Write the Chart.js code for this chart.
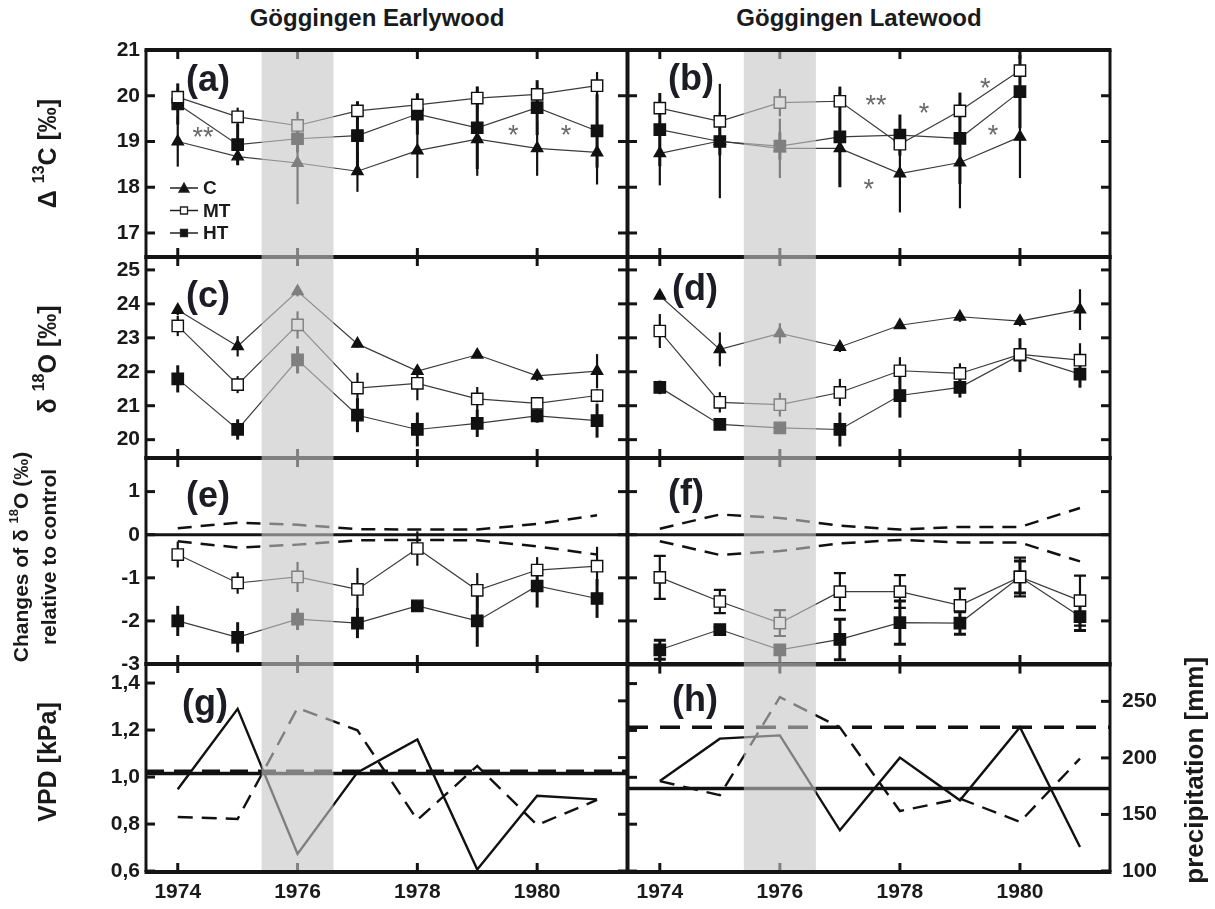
<!DOCTYPE html>
<html>
<head>
<meta charset="utf-8">
<title>Göggingen Earlywood / Latewood</title>
<script src="https://cdn.jsdelivr.net/npm/chart.js@4.4.1/dist/chart.umd.min.js"></script>
<style>
  body { margin: 0; background: #fff; }
  #page { position: relative; width: 1215px; height: 909px; overflow: hidden; background: #fff; }
  #page canvas { position: absolute; }
  .head { position: absolute; top: 4px; width: 482px; text-align: center;
          font: bold 24px 'Liberation Sans', Arial, sans-serif; color: #1a1a1a; }
</style>
</head>
<body>
<div id="page">
  <div class="head" style="left:136px">Göggingen Earlywood</div>
  <div class="head" style="left:618px">Göggingen Latewood</div>
  <canvas id="pa"></canvas>
  <canvas id="pb"></canvas>
  <canvas id="pc"></canvas>
  <canvas id="pd"></canvas>
  <canvas id="pe"></canvas>
  <canvas id="pf"></canvas>
  <canvas id="pg"></canvas>
  <canvas id="ph"></canvas>
</div>
<script>
// ---- data ----
const years = [1974, 1975, 1976, 1977, 1978, 1979, 1980, 1981];
const yearsB = [1974, 1975, 1976, 1977, 1978, 1979, 1980];
const xTicks = [1974, 1976, 1978, 1980];
const xMin = 1973.47, xMax = 1981.5;
const droughtBand = [1975.4, 1976.6];

const d13Ticks = [17, 18, 19, 20, 21];
const d18Ticks = [20, 21, 22, 23, 24, 25];
const diffTicks = [-3, -2, -1, 0, 1];
const vpdTicks = [0.6, 0.8, 1.0, 1.2, 1.4];
const precTicks = [100, 150, 200, 250];

// (a) earlywood D13C
const a_C = [19.0, 18.67, 18.53, 18.35, 18.8, 19.05, 18.85, 18.76];
const a_MT = [19.97, 19.54, 19.35, 19.67, 19.8, 19.95, 20.03, 20.22];
const a_HT = [19.82, 18.93, 19.06, 19.13, 19.6, 19.3, 19.74, 19.23];
const a_Cerr = [0.55, 0.15, 0.9, 0.45, 0.6, 0.8, 0.6, 0.7];
const a_MTerr = [0.2, 0.2, 0.3, 0.2, 0.25, 0.25, 0.2, 0.3];
const a_HTerr = [0.45, 0.45, 0.3, 0.75, 0.45, 0.9, 0.6, 0.8];
const a_starX = [1974.42, 1979.6, 1980.48];
const a_starY = [19.2, 19.25, 19.25];
const a_starT = ['**', '*', '*'];

// (b) latewood D13C
const b_C = [18.74, 19.01, 18.85, 18.85, 18.3, 18.54, 19.1];
const b_MT = [19.73, 19.44, 19.85, 19.88, 18.94, 19.67, 20.55];
const b_HT = [19.26, 19.0, 18.9, 19.1, 19.14, 19.07, 20.09];
const b_Cerr = [0.7, 1.25, 0.65, 0.8, 0.85, 1.0, 0.9];
const b_MTerr = [0.2, 0.2, 0.3, 0.2, 0.2, 0.2, 0.3];
const b_HTerr = [0.8, 0.3, 0.3, 1.1, 0.45, 1.0, 0.8];
const b_starX = [1977.6, 1978.4, 1979.42, 1979.55, 1977.48];
const b_starY = [19.89, 19.71, 20.26, 19.23, 18.05];
const b_starT = ['**', '*', '*', '*', '*'];

// (c) earlywood d18O
const c_C = [23.82, 22.75, 24.37, 22.82, 22.02, 22.5, 21.88, 22.02];
const c_MT = [23.35, 21.62, 23.38, 21.52, 21.66, 21.2, 21.07, 21.3];
const c_HT = [21.79, 20.3, 22.35, 20.72, 20.3, 20.48, 20.7, 20.56];
const c_Cerr = [0.15, 0.3, 0.15, 0.1, 0.1, 0.1, 0.15, 0.5];
const c_MTerr = [0.3, 0.25, 0.4, 0.45, 0.5, 0.35, 0.15, 0.2];
const c_HTerr = [0.4, 0.3, 0.4, 0.5, 0.5, 0.4, 0.2, 0.5];

// (d) latewood d18O
const d_C = [24.24, 22.66, 23.13, 22.73, 23.37, 23.62, 23.49, 23.83];
const d_MT = [23.2, 21.1, 21.03, 21.39, 22.03, 21.95, 22.51, 22.34];
const d_HT = [21.54, 20.45, 20.35, 20.3, 21.3, 21.54, 22.49, 21.93];
const d_Cerr = [0.1, 0.5, 0.3, 0.15, 0.1, 0.15, 0.15, 0.6];
const d_MTerr = [0.5, 0.3, 0.35, 0.4, 0.4, 0.3, 0.2, 0.5];
const d_HTerr = [0.2, 0.1, 0.1, 0.5, 0.65, 0.3, 0.5, 0.4];

// (e) earlywood d18O change relative to control
const e_MT = [-0.46, -1.12, -0.98, -1.27, -0.32, -1.29, -0.82, -0.73];
const e_HT = [-2.0, -2.38, -1.96, -2.05, -1.65, -2.0, -1.19, -1.48];
const e_MTerr = [0.3, 0.25, 0.35, 0.5, 0.4, 0.4, 0.3, 0.45];
const e_HTerr = [0.35, 0.35, 0.25, 0.35, 0.1, 0.6, 0.5, 0.45];
const e_ctrlUp = [0.15, 0.28, 0.23, 0.13, 0.12, 0.12, 0.25, 0.45];
const e_ctrlLo = [-0.15, -0.3, -0.23, -0.13, -0.12, -0.13, -0.27, -0.46];

// (f) latewood d18O change relative to control
const f_MT = [-0.99, -1.55, -2.05, -1.32, -1.32, -1.64, -0.98, -1.53];
const f_HT = [-2.67, -2.2, -2.67, -2.43, -2.04, -2.05, -0.98, -1.9];
const f_MTerr = [0.5, 0.27, 0.3, 0.43, 0.38, 0.39, 0.45, 0.58];
const f_HTerr = [0.22, 0.05, 0.1, 0.47, 0.5, 0.26, 0.37, 0.32];
const f_ctrlUp = [0.14, 0.47, 0.39, 0.21, 0.12, 0.18, 0.18, 0.62];
const f_ctrlLo = [-0.15, -0.47, -0.38, -0.2, -0.12, -0.18, -0.18, -0.62];

// (g)/(h) climate: VPD (solid) and precipitation (dashed)
const g_vpd = [0.948, 1.29, 0.673, 1.02, 1.16, 0.607, 0.92, 0.905];
const g_prec = [147.6, 145.9, 243.7, 224, 145, 192.6, 140.6, 162.6];
const g_vpdMean = 1.015, g_precMean = 188;
const h_vpd = [0.984, 1.165, 1.179, 0.774, 1.084, 0.902, 1.214, 0.703];
const h_prec = [179.5, 167, 253.7, 227, 153, 164, 143.4, 199.4];
const h_vpdMean = 0.952, h_precMean = 227.2;

// axis titles (sup = superscript)
const titleD13 = [{ t: 'Δ ' }, { t: '13', sup: true }, { t: 'C [‰]' }];
const titleD18 = [{ t: 'δ ' }, { t: '18', sup: true }, { t: 'O [‰]' }];
const titleDiff1 = [{ t: 'Changes of δ ' }, { t: '18', sup: true }, { t: 'O (‰)' }];
const titleDiff2 = [{ t: 'relative to control' }];
const titleVPD = [{ t: 'VPD [kPa]' }];
const titlePrec = [{ t: 'precipitation [mm]' }];

// ---- drawing ----
const FONT = "'Liberation Sans', Arial, sans-serif";
Chart.defaults.font.family = FONT;
Chart.defaults.color = '#1a1a1a';

const colGeom = [
  { left: 0, width: 640, areaLeft: 146, areaRight: 627 },
  { left: 614, width: 601, areaLeft: 628, areaRight: 1110 }
];
const rowGeom = [[50, 257], [257, 458], [458, 664], [664, 872]];
const PAD = 24;

const STYLE = {
  C:  { pointStyle: 'triangle', pointRadius: 6.5, pointBackgroundColor: '#111', pointBorderColor: '#111', errWidth: 2.2 },
  MT: { pointStyle: 'rect', pointRadius: 8, pointBackgroundColor: '#fff', pointBorderColor: '#111', errWidth: 2.2 },
  HT: { pointStyle: 'rect', pointRadius: 8, pointBackgroundColor: '#111', pointBorderColor: '#111', errWidth: 3 }
};

function pts(xs, ys) {
  return xs.map(function (x, i) { return { x: x, y: ys[i] }; });
}

function series(label, xs, ys, errs, extra) {
  return Object.assign({
    label: label,
    data: pts(xs, ys),
    errors: errs,
    borderColor: '#3c3c3c',
    borderWidth: 1.2,
    pointBorderWidth: 1.4,
    yAxisID: 'y'
  }, STYLE[label], extra || {});
}

function curve(xs, ys, axis, width, dash) {
  return { data: pts(xs, ys), yAxisID: axis, borderColor: '#111', borderWidth: width,
           borderDash: dash, pointRadius: 0 };
}

function flat(value, axis, width, dash) {
  return { data: [{ x: xMin, y: value }, { x: xMax, y: value }], yAxisID: axis,
           borderColor: '#111', borderWidth: width, borderDash: dash, pointRadius: 0 };
}

function starList(xs, ys, ts) {
  return xs.map(function (x, i) { return { x: x, y: ys[i], t: ts[i] }; });
}

// rotated (bottom-to-top) text with optional superscripts
function drawRich(ctx, parts, size, cx, cy) {
  const supSize = Math.round(size * 0.64);
  let total = 0;
  const widths = parts.map(function (p) {
    ctx.font = 'bold ' + (p.sup ? supSize : size) + 'px ' + FONT;
    const w = ctx.measureText(p.t).width;
    total += w;
    return w;
  });
  ctx.save();
  ctx.translate(cx, cy);
  ctx.rotate(-Math.PI / 2);
  ctx.fillStyle = '#1a1a1a';
  ctx.textAlign = 'left';
  ctx.textBaseline = 'middle';
  let x = -total / 2;
  parts.forEach(function (p, i) {
    ctx.font = 'bold ' + (p.sup ? supSize : size) + 'px ' + FONT;
    ctx.fillText(p.t, x, p.sup ? -size * 0.36 : 0);
    x += widths[i];
  });
  ctx.restore();
}

const errorBars = {
  id: 'errorBars',
  beforeDatasetsDraw(chart) {
    const ctx = chart.ctx;
    chart.data.datasets.forEach(function (ds, i) {
      if (!ds.errors) return;
      const meta = chart.getDatasetMeta(i);
      const ys = chart.scales[ds.yAxisID || 'y'];
      ctx.save();
      ctx.strokeStyle = '#111';
      ctx.lineWidth = ds.errWidth || 2;
      meta.data.forEach(function (pt, j) {
        const e = ds.errors[j];
        if (!e) return;
        const v = ds.data[j].y;
        const y1 = ys.getPixelForValue(v - e), y2 = ys.getPixelForValue(v + e);
        ctx.beginPath();
        ctx.moveTo(pt.x, y1); ctx.lineTo(pt.x, y2);
        if (ds.errCap) {
          ctx.moveTo(pt.x - ds.errCap, y1); ctx.lineTo(pt.x + ds.errCap, y1);
          ctx.moveTo(pt.x - ds.errCap, y2); ctx.lineTo(pt.x + ds.errCap, y2);
        }
        ctx.stroke();
      });
      ctx.restore();
    });
  }
};

const frame = {
  id: 'frame',
  afterDatasetsDraw(chart, args, o) {
    const ctx = chart.ctx, a = chart.chartArea, sc = chart.scales;
    const seg = function (x1, y1, x2, y2) { ctx.beginPath(); ctx.moveTo(x1, y1); ctx.lineTo(x2, y2); ctx.stroke(); };
    ctx.save();
    ctx.strokeStyle = '#141414';
    if (o.zero) {
      ctx.lineWidth = 3;
      const y0 = sc.y.getPixelForValue(0);
      seg(a.left, y0, a.right, y0);
    }
    ctx.lineWidth = 3;
    xTicks.forEach(function (v) {
      const px = sc.x.getPixelForValue(v);
      seg(px, a.top, px, a.top + 9);
      seg(px, a.bottom, px, a.bottom - 9);
    });
    o.leftTicks.forEach(function (v) {
      const py = sc[o.leftAxis].getPixelForValue(v);
      seg(a.left, py, a.left + 9, py);
    });
    o.rightTicks.forEach(function (v) {
      const py = sc[o.rightAxis].getPixelForValue(v);
      seg(a.right - 9, py, a.right, py);
    });
    ctx.lineWidth = 4;
    seg(a.left - 1.5, a.top, a.right + 1.5, a.top);
    seg(a.left - 1.5, a.bottom, a.right + 1.5, a.bottom);
    ctx.lineWidth = 3;
    seg(a.left, a.top, a.left, a.bottom);
    seg(a.right, a.top, a.right, a.bottom);
    ctx.restore();
  }
};

// grey veil over the 1976 drought year
const band = {
  id: 'band',
  afterDraw(chart, args, o) {
    const ctx = chart.ctx, a = chart.chartArea, x = chart.scales.x;
    const x1 = x.getPixelForValue(droughtBand[0]), x2 = x.getPixelForValue(droughtBand[1]);
    const top = o.firstRow ? a.top + 2 : a.top - 2;
    const bottom = o.lastRow ? a.bottom - 2 : a.bottom + 2;
    ctx.save();
    ctx.fillStyle = 'rgba(197,197,197,0.61)';
    ctx.fillRect(x1, top, x2 - x1, bottom - top);
    ctx.restore();
  }
};

const notes = {
  id: 'notes',
  afterDraw(chart, args, o) {
    const ctx = chart.ctx, a = chart.chartArea, sx = chart.scales.x, sy = chart.scales.y;
    ctx.save();
    if (o.letter) {
      ctx.font = 'bold 36px ' + FONT;
      ctx.fillStyle = '#1c1c24';
      ctx.textAlign = 'left';
      ctx.textBaseline = 'middle';
      ctx.fillText(o.letter, a.left + o.letterDx, a.top + o.letterDy);
    }
    (o.stars || []).forEach(function (s) {
      ctx.font = '27px ' + FONT;
      ctx.fillStyle = '#6a6a6a';
      ctx.textAlign = 'center';
      ctx.textBaseline = 'middle';
      ctx.fillText(s.t, sx.getPixelForValue(s.x), sy.getPixelForValue(s.y) + 6);
    });
    if (o.legend) {
      chart.data.datasets.forEach(function (ds, i) {
        const y = a.top + o.legend.top + i * o.legend.gap;
        const x0 = a.left + o.legend.left;
        ctx.strokeStyle = '#222';
        ctx.lineWidth = 1.5;
        ctx.beginPath(); ctx.moveTo(x0, y); ctx.lineTo(x0 + 28, y); ctx.stroke();
        ctx.fillStyle = ds.pointBackgroundColor;
        ctx.lineWidth = 1.3;
        ctx.beginPath();
        if (ds.pointStyle === 'triangle') {
          ctx.moveTo(x0 + 14, y - 5); ctx.lineTo(x0 + 19, y + 4); ctx.lineTo(x0 + 9, y + 4); ctx.closePath();
        } else {
          ctx.rect(x0 + 10.5, y - 3.5, 7, 7);
        }
        ctx.fill(); ctx.stroke();
        ctx.font = 'bold 19px ' + FONT;
        ctx.fillStyle = '#1a1a1a';
        ctx.textAlign = 'left';
        ctx.textBaseline = 'middle';
        ctx.fillText(ds.label, x0 + 33, y + 1);
      });
    }
    (o.titles || []).forEach(function (t) {
      const cx = t.right ? a.right + t.dx : t.dx;
      drawRich(ctx, t.parts, t.size, cx, (a.top + a.bottom) / 2 + (t.dy || 0));
    });
    ctx.restore();
  }
};

function tickSetter(list) {
  return function (s) { s.ticks = list.map(function (v) { return { value: v }; }); };
}

function panel(id, col, row, cfg) {
  const g = colGeom[col], r = rowGeom[row];
  const lastRow = row === 3;
  const top = r[0] - PAD;
  const height = lastRow ? 909 - top : r[1] - r[0] + 2 * PAD;
  const canvas = document.getElementById(id);
  canvas.width = g.width;
  canvas.height = height;
  canvas.style.left = g.left + 'px';
  canvas.style.top = top + 'px';

  const showLeft = col === 0;
  const showRight = !!cfg.y2Labels;
  const tickFont = { size: 21, weight: 'bold' };
  const fmt = cfg.comma ? function (v) { return v.toFixed(1).replace('.', ','); } : function (v) { return String(v); };

  const scales = {
    x: {
      type: 'linear', min: xMin, max: xMax, display: lastRow,
      afterBuildTicks: tickSetter(xTicks),
      grid: { display: false, drawTicks: false }, border: { display: false },
      ticks: { padding: 8, font: tickFont, color: '#1a1a1a', callback: function (v) { return String(v); } }
    },
    y: {
      type: 'linear', position: 'left', min: cfg.yMin, max: cfg.yMax, display: showLeft,
      afterBuildTicks: tickSetter(cfg.yTicks),
      grid: { display: false, drawTicks: false }, border: { display: false },
      ticks: { padding: 6, font: tickFont, color: '#1a1a1a', callback: fmt }
    }
  };
  if (lastRow) scales.x.afterFit = function (s) { s.height = 37; };
  if (showLeft) scales.y.afterFit = function (s) { s.width = g.areaLeft - g.left; };
  if (cfg.y2) {
    scales.y2 = {
      type: 'linear', position: 'right', min: cfg.y2[0], max: cfg.y2[1], display: showRight,
      afterBuildTicks: tickSetter(precTicks),
      grid: { display: false, drawTicks: false }, border: { display: false },
      ticks: { padding: 12, font: tickFont, color: '#1a1a1a', callback: function (v) { return String(v); } }
    };
    if (showRight) scales.y2.afterFit = function (s) { s.width = g.left + g.width - g.areaRight; };
  }

  return new Chart(canvas, {
    type: 'line',
    data: { datasets: cfg.datasets },
    options: {
      responsive: false,
      animation: false,
      devicePixelRatio: 1,
      events: [],
      layout: {
        padding: {
          top: PAD,
          bottom: lastRow ? 0 : PAD,
          left: showLeft ? 0 : g.areaLeft - g.left,
          right: showRight ? 0 : g.left + g.width - g.areaRight
        }
      },
      scales: scales,
      plugins: {
        legend: { display: false },
        tooltip: { enabled: false },
        frame: {
          leftTicks: cfg.leftTicks || cfg.yTicks, leftAxis: 'y',
          rightTicks: cfg.rightTicks || cfg.yTicks, rightAxis: cfg.rightAxis || 'y',
          zero: !!cfg.zero
        },
        band: { firstRow: row === 0, lastRow: lastRow },
        notes: {
          letter: cfg.letter, letterDx: cfg.letterDx || 40, letterDy: cfg.letterDy,
          stars: cfg.stars, legend: cfg.legend, titles: cfg.titles
        }
      }
    },
    plugins: [errorBars, frame, band, notes]
  });
}

const d13Range = [16.475, 21];
const d18Range = [19.46, 25.38];
const diffRange = [-3, 1.78];
const vpdRange = [0.596, 1.481];
const precRange = [99.1, 282.5];

panel('pa', 0, 0, {
  yMin: d13Range[0], yMax: d13Range[1], yTicks: d13Ticks,
  titles: [{ parts: titleD13, size: 25, dx: 49 }],
  letter: '(a)', letterDy: 31,
  stars: starList(a_starX, a_starY, a_starT),
  legend: { left: 24, top: 138, gap: 22.5 },
  datasets: [
    series('C', years, a_C, a_Cerr),
    series('MT', years, a_MT, a_MTerr),
    series('HT', years, a_HT, a_HTerr)
  ]
});

panel('pb', 1, 0, {
  yMin: d13Range[0], yMax: d13Range[1], yTicks: d13Ticks,
  letter: '(b)', letterDy: 30,
  stars: starList(b_starX, b_starY, b_starT),
  datasets: [
    series('C', yearsB, b_C, b_Cerr),
    series('MT', yearsB, b_MT, b_MTerr),
    series('HT', yearsB, b_HT, b_HTerr)
  ]
});

panel('pc', 0, 1, {
  yMin: d18Range[0], yMax: d18Range[1], yTicks: d18Ticks,
  titles: [{ parts: titleD18, size: 25, dx: 49, dy: 2 }],
  letter: '(c)', letterDy: 40,
  datasets: [
    series('C', years, c_C, c_Cerr),
    series('MT', years, c_MT, c_MTerr),
    series('HT', years, c_HT, c_HTerr)
  ]
});

panel('pd', 1, 1, {
  yMin: d18Range[0], yMax: d18Range[1], yTicks: d18Ticks,
  letter: '(d)', letterDx: 44, letterDy: 33,
  datasets: [
    series('C', years, d_C, d_Cerr),
    series('MT', years, d_MT, d_MTerr),
    series('HT', years, d_HT, d_HTerr)
  ]
});

panel('pe', 0, 2, {
  yMin: diffRange[0], yMax: diffRange[1], yTicks: diffTicks,
  titles: [{ parts: titleDiff1, size: 21, dx: 22, dy: -4 }, { parts: titleDiff2, size: 21, dx: 50, dy: -4 }],
  letter: '(e)', letterDy: 39, zero: true,
  datasets: [
    series('MT', years, e_MT, e_MTerr),
    series('HT', years, e_HT, e_HTerr),
    curve(years, e_ctrlUp, 'y', 2.5, [14, 9]),
    curve(years, e_ctrlLo, 'y', 2.5, [14, 9])
  ]
});

panel('pf', 1, 2, {
  yMin: diffRange[0], yMax: diffRange[1], yTicks: diffTicks,
  letter: '(f)', letterDy: 37, zero: true,
  datasets: [
    series('MT', years, f_MT, f_MTerr, { errCap: 6 }),
    series('HT', years, f_HT, f_HTerr, { errCap: 6 }),
    curve(years, f_ctrlUp, 'y', 2.5, [14, 9]),
    curve(years, f_ctrlLo, 'y', 2.5, [14, 9])
  ]
});

panel('pg', 0, 3, {
  yMin: vpdRange[0], yMax: vpdRange[1], yTicks: vpdTicks, comma: true,
  titles: [{ parts: titleVPD, size: 25, dx: 49, dy: -6 }],
  y2: precRange, rightTicks: precTicks, rightAxis: 'y2',
  letter: '(g)', letterDx: 36, letterDy: 41,
  datasets: [
    curve(years, g_vpd, 'y', 2.4, []),
    curve(years, g_prec, 'y2', 2.4, [15, 9]),
    flat(g_vpdMean, 'y', 3.5, []),
    flat(g_precMean, 'y2', 3.5, [18, 10])
  ]
});

panel('ph', 1, 3, {
  yMin: vpdRange[0], yMax: vpdRange[1], yTicks: vpdTicks, comma: true,
  y2: precRange, y2Labels: true, rightTicks: precTicks, rightAxis: 'y2',
  letter: '(h)', letterDx: 44, letterDy: 36,
  titles: [{ parts: titlePrec, size: 26, dx: 86, right: true, dy: 2 }],
  datasets: [
    curve(years, h_vpd, 'y', 2.4, []),
    curve(years, h_prec, 'y2', 2.4, [15, 9]),
    flat(h_vpdMean, 'y', 3.5, []),
    flat(h_precMean, 'y2', 3.5, [20, 12])
  ]
});
</script>
</body>
</html>
